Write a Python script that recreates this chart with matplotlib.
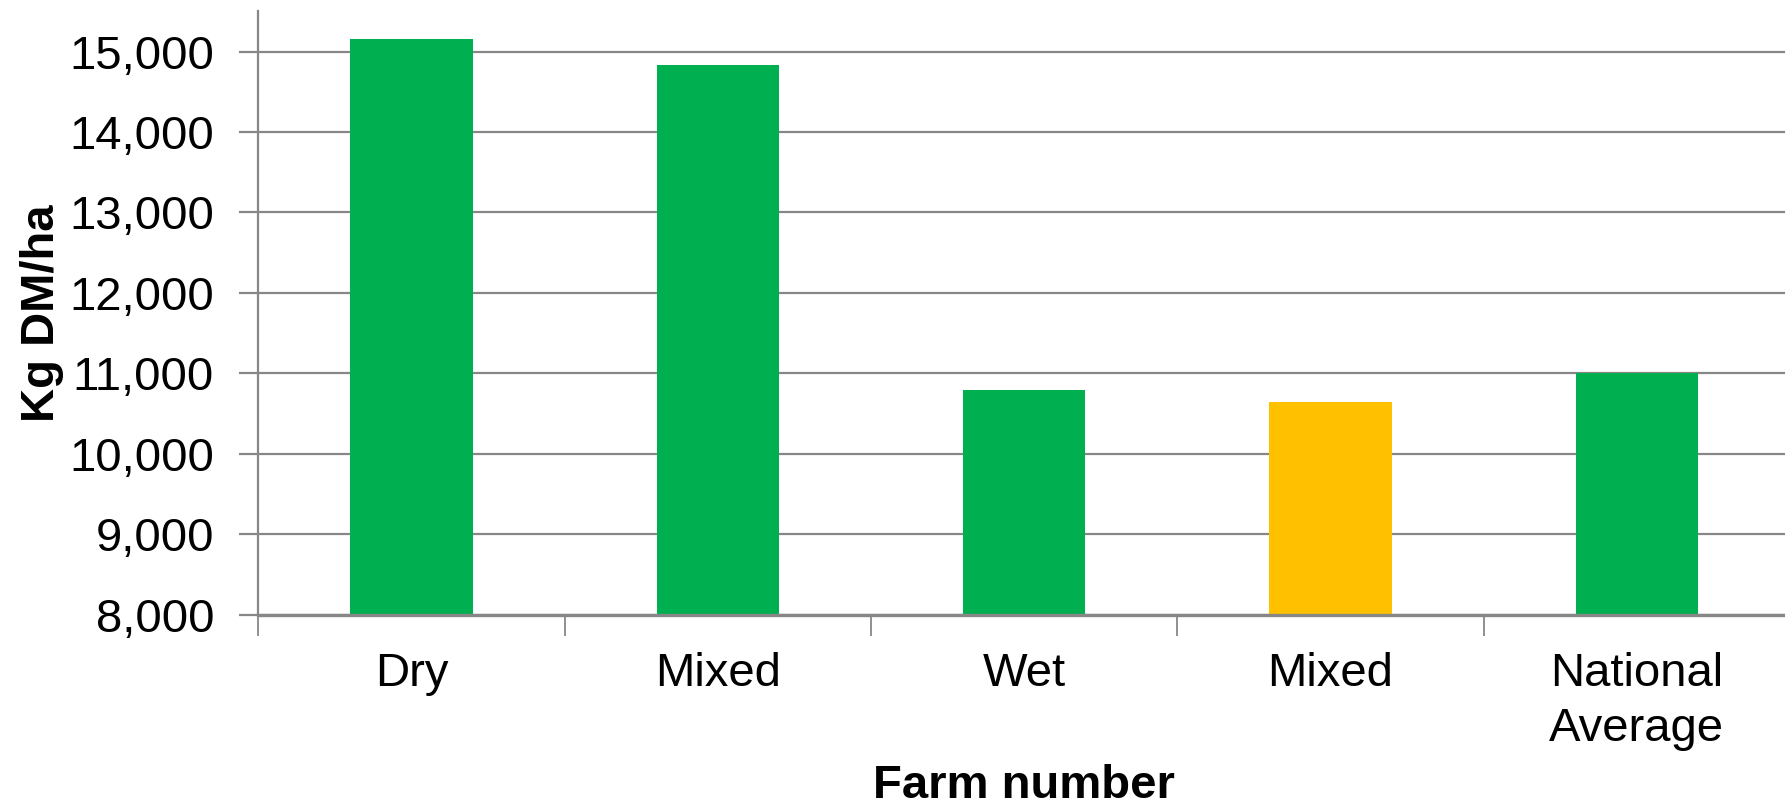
import matplotlib.pyplot as plt
from matplotlib.ticker import FuncFormatter

# Annual grass growth by farm type
farms = ['Dry', 'Mixed', 'Wet', 'Mixed', 'National\nAverage']
growth = [15150, 14830, 10800, 10650, 11000]
bar_colors = ['#00B050', '#00B050', '#00B050', '#FFC000', '#00B050']
yticks = [8000, 9000, 10000, 11000, 12000, 13000, 14000, 15000]

plt.rcParams['font.family'] = ['Liberation Sans', 'DejaVu Sans']

fig = plt.figure(figsize=(17.85, 8.09), dpi=100)
ax = fig.add_axes([0.1448, 0.240, 0.858, 0.746])

x = list(range(len(farms)))
ax.bar(x, growth, width=0.4, color=bar_colors, zorder=3)

ax.set_xlim(-0.5, len(farms) - 0.5)
ax.set_ylim(8000, 15500)
ax.set_yticks(yticks)
ax.yaxis.set_major_formatter(FuncFormatter(lambda v, p: '{:,.0f}'.format(v)))
ax.grid(axis='y', color='#878787', linewidth=1.6, zorder=0)

# category ticks sit between the bars
ax.set_xticks([i - 0.5 for i in x] + [len(farms) - 0.5])
ax.set_xticklabels([])
ax.set_xticks(x, minor=True)
ax.set_xticklabels(farms, minor=True, fontsize=34, linespacing=1.3)
ax.tick_params(axis='x', which='major', length=15, width=1.3, color='#878787')
ax.tick_params(axis='x', which='minor', length=0, pad=27)
ax.tick_params(axis='y', length=14, width=1.6, color='#878787', labelsize=34, pad=18)

for side in ['top', 'right']:
    ax.spines[side].set_visible(False)
ax.spines['left'].set_color('#878787')
ax.spines['left'].set_linewidth(1.6)
ax.spines['bottom'].set_color('#878787')
ax.spines['bottom'].set_linewidth(2.4)
ax.spines['bottom'].set_zorder(4)

ax.set_ylabel('Kg DM/ha', fontsize=34, fontweight='bold', labelpad=4)
ax.set_xlabel('Farm number', fontsize=34, fontweight='bold', labelpad=10)

fig.savefig('out.png', dpi=100)
